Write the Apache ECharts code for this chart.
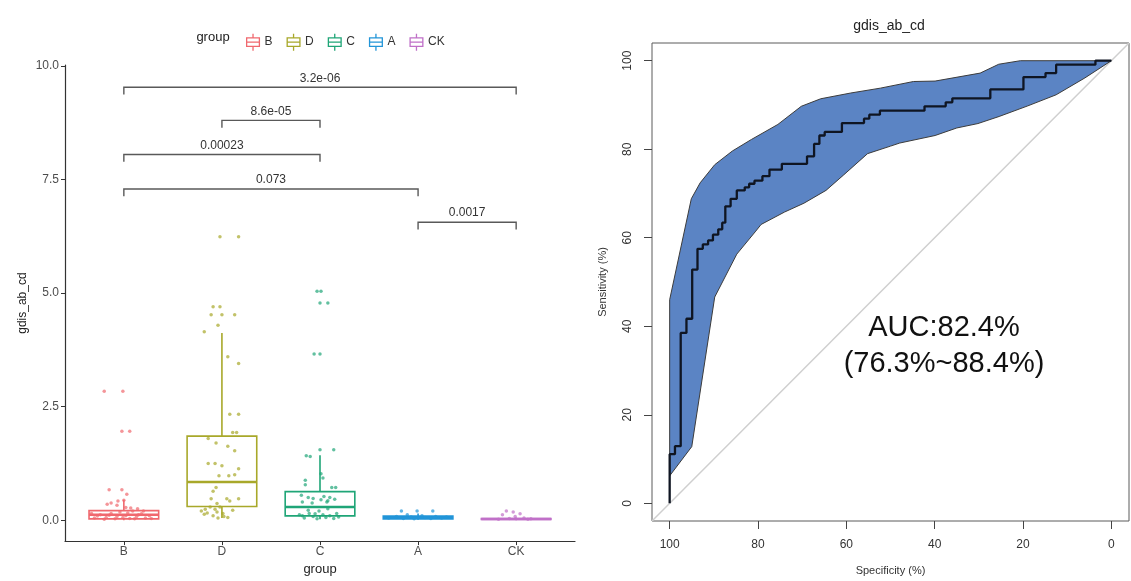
<!DOCTYPE html>
<html><head><meta charset="utf-8">
<script src="https://cdn.jsdelivr.net/npm/echarts@6/dist/echarts.min.js"></script>
<style>html,body{margin:0;padding:0;background:#fff}#c{width:1131px;height:581px}</style>
</head><body><div id="c"></div>
<script>
// ---------------- DATA (left: boxplot) ----------------
const categories = ['B', 'D', 'C', 'A', 'CK'];
const yTicks = [0, 2.5, 5, 7.5, 10];
const whiskerLow  = [0.00, 0.05, 0.02, 0.01, 0.00];
const q1          = [0.03, 0.30, 0.095, 0.03, 0.015];
const median      = [0.12, 0.84, 0.29, 0.06, 0.025];
const q3          = [0.21, 1.85, 0.63, 0.09, 0.035];
const whiskerHigh = [0.45, 4.12, 1.43, 0.15, 0.06];

const valB = [2.84,2.84,1.96,1.96,0.67,0.67,0.57,0.44,0.42,0.35,0.38,0.33,0.28,0.27,0.25,0.05,0.12,0.06,0.15,0.03,0.18,0.10,0.04,0.20,0.08,0.14,0.05,0.10,0.02,0.08,0.16,0.03,0.20,0.09,0.11,0.06,0.12,0.04,0.15];
const jitB = [-0.2,-0.01,-0.02,0.06,-0.15,-0.02,0.03,0.0,-0.06,-0.17,-0.13,-0.07,0.02,0.07,0.14,-0.3,-0.24,-0.18,-0.13,-0.09,-0.04,0.02,0.06,0.09,0.13,0.18,0.22,0.26,-0.2,-0.07,0.04,0.11,0.2,-0.27,-0.15,-0.01,0.15,0.28,-0.33];
const valD = [6.24,6.24,4.70,4.70,4.52,4.52,4.52,4.29,4.15,3.60,3.45,2.33,2.33,1.93,1.93,1.80,1.70,1.63,1.53,1.25,1.25,1.20,1.13,0.98,0.98,1.00,0.72,0.64,0.47,0.47,0.47,0.42,0.37,0.29,0.29,0.24,0.24,0.22,0.20,0.18,0.15,0.13,0.10,0.08,0.06,0.16,0.05];
const jitD = [-0.02,0.17,-0.09,-0.02,-0.11,0.0,0.13,-0.04,-0.18,0.06,0.17,0.08,0.17,0.11,0.15,-0.14,-0.06,0.06,0.13,-0.14,-0.07,0.0,0.17,-0.03,0.07,0.13,-0.06,-0.09,-0.11,0.05,0.17,0.08,-0.05,-0.12,-0.02,-0.17,-0.07,0.11,-0.21,-0.05,0.01,-0.18,-0.09,0.02,0.06,-0.15,-0.04];
const valC = [5.04,5.04,4.78,4.78,3.66,3.66,1.55,1.55,1.42,1.40,1.02,0.93,0.88,0.78,0.72,0.72,0.55,0.50,0.48,0.52,0.50,0.45,0.43,0.46,0.40,0.38,0.40,0.12,0.05,0.15,0.08,0.03,0.12,0.06,0.10,0.04,0.15,0.07,0.22,0.20,0.25,0.10,0.14];
const jitC = [-0.03,0.01,0.0,0.08,-0.06,0.0,0.0,0.14,-0.14,-0.1,0.01,0.03,-0.15,-0.15,0.12,0.16,-0.19,-0.12,-0.07,0.04,0.1,0.01,0.08,0.15,-0.18,-0.08,0.07,-0.21,-0.16,-0.11,-0.07,-0.03,0.03,0.06,0.1,0.14,0.17,0.19,-0.12,-0.01,0.08,-0.18,-0.05];
const valA = [0.20,0.20,0.20,0.12,0.10,0.05,0.08,0.04,0.07,0.03,0.06,0.04,0.08,0.05,0.07];
const jitA = [-0.17,-0.01,0.15,-0.11,0.04,-0.3,-0.22,-0.15,-0.07,-0.04,0.07,0.13,0.18,0.24,0.29];
const valCK = [0.20,0.18,0.12,0.14,0.08,0.05,0.04,0.02,0.02,0.03];
const jitCK = [-0.1,-0.03,-0.14,0.04,-0.01,0.08,-0.07,-0.18,0.12,0.15];

const bracketFrom   = [1, 2, 1, 1, 4];
const bracketTo     = [5, 3, 3, 4, 5];
const bracketY      = [9.53, 8.80, 8.05, 7.29, 6.56];
const bracketLabels = ['3.2e-06', '8.6e-05', '0.00023', '0.073', '0.0017'];

// ---------------- DATA (right: ROC) ----------------
const specTicks = [0, 20, 40, 60, 80, 100];
const rocSpec = [100,100,98.8,98.8,97.5,97.5,96.2,96.2,94.9,94.9,93.7,93.7,92.5,92.5,91.3,91.3,90.2,90.2,89.0,89.0,88.1,88.1,87.4,87.4,86.2,86.2,84.8,84.8,83.0,83.0,82.0,82.0,80.8,80.8,79.0,79.0,77.4,77.4,74.6,74.6,68.9,68.9,67.3,67.3,66.1,66.1,64.9,64.9,61.0,61.0,56.0,56.0,54.8,54.8,52.4,52.4,42.3,42.3,37.5,37.5,36.0,36.0,27.4,27.4,19.9,19.9,14.9,14.9,12.5,12.5,3.6,3.6,0];
const rocSens = [0,11.1,11.1,12.9,12.9,38.5,38.5,41.7,41.7,52.8,52.8,57.5,57.5,58.5,58.5,59.4,59.4,60.7,60.7,61.9,61.9,63.4,63.4,67.1,67.1,68.8,68.8,70.7,70.7,71.4,71.4,72.2,72.2,72.9,72.9,73.9,73.9,75.4,75.4,76.7,76.7,78.4,78.4,81.2,81.2,83.1,83.1,83.9,83.9,85.9,85.9,86.9,86.9,87.8,87.8,88.7,88.7,89.7,89.7,90.6,90.6,91.5,91.5,93.5,93.5,96.3,96.3,97.2,97.2,99.1,99.1,100,100];
const ciUpperSpec = [100,95.1,93.1,89.8,85.8,81.5,75.5,70.2,65.8,59.0,52.3,44.8,39.9,29.7,25.5,20.6,0];
const ciUpperSens = [46.0,68.8,72.4,76.5,79.6,82.2,85.6,89.7,91.4,92.7,93.8,95.3,95.4,97.2,99.2,100,100];
const ciLowerSpec = [100,95.0,89.8,84.8,80.5,79.3,74.0,69.6,64.6,60.6,55.2,50.0,47.9,39.9,35.0,30.2,25.4,18.9,12.5,6.0,0];
const ciLowerSens = [6.2,12.8,46.6,56.3,61.5,63.0,65.8,67.8,70.7,74.2,79.0,80.7,81.4,83.1,84.8,85.8,87.4,89.8,92.3,96.1,100];
const aucText = 'AUC:82.4%';
const aucCiText = '(76.3%~88.4%)';

// ---------------- STYLE ----------------
const FONT = '"Liberation Sans", Arial, Helvetica, sans-serif';
const groupColors = ['#F0686E', '#A8A82A', '#1FA577', '#2295D8', '#C070C8'];
const BOX_WIDTH = 0.71;
const BRACKET_TIP = 0.16;
const BOX_ICON = 'path://M6,0 L6,4 M0,4 L12,4 L12,12 L0,12 Z M0,8 L12,8 M6,12 L6,16';

const groupVals = [valB, valD, valC, valA, valCK];
const groupJit = [jitB, jitD, jitC, jitA, jitCK];

function boxRender(params, api) {
  const x = api.value(0);
  const lo = api.coord([x, api.value(1)]);
  const b1 = api.coord([x, api.value(2)]);
  const md = api.coord([x, api.value(3)]);
  const b3 = api.coord([x, api.value(4)]);
  const hi = api.coord([x, api.value(5)]);
  const hw = api.size([BOX_WIDTH, 0])[0] / 2;
  const color = api.visual('color');
  return {
    type: 'group',
    children: [
      { type: 'line', shape: { x1: lo[0], y1: lo[1], x2: b1[0], y2: b1[1] }, style: { stroke: color, lineWidth: 1.6 } },
      { type: 'line', shape: { x1: b3[0], y1: b3[1], x2: hi[0], y2: hi[1] }, style: { stroke: color, lineWidth: 1.6 } },
      { type: 'rect', shape: { x: lo[0] - hw, y: b3[1], width: 2 * hw, height: Math.max(b1[1] - b3[1], 0.5) }, style: { fill: 'rgba(255,255,255,0)', stroke: color, lineWidth: 1.6 } },
      { type: 'line', shape: { x1: md[0] - hw, y1: md[1], x2: md[0] + hw, y2: md[1] }, style: { stroke: color, lineWidth: 2.6 } }
    ]
  };
}

function bracketRender(params, api) {
  const x1 = api.value(0), x2 = api.value(1), y = api.value(2);
  const p1 = api.coord([x1, y - BRACKET_TIP]);
  const p2 = api.coord([x1, y]);
  const p3 = api.coord([x2, y]);
  const p4 = api.coord([x2, y - BRACKET_TIP]);
  const mid = api.coord([(x1 + x2) / 2, y]);
  return {
    type: 'group',
    children: [
      { type: 'polyline', shape: { points: [p1, p2, p3, p4] }, style: { stroke: '#595959', lineWidth: 1.4, fill: null } },
      { type: 'text', x: mid[0], y: mid[1] - 3, style: { text: bracketLabels[params.dataIndex], align: 'center', verticalAlign: 'bottom', font: '12px ' + FONT, fill: '#333' } }
    ]
  };
}

function bandRender(params, api) {
  if (params.dataIndex !== 0) return null;
  const pts = [];
  for (let i = 0; i < ciUpperSpec.length; i++) pts.push(api.coord([ciUpperSpec[i], ciUpperSens[i]]));
  for (let i = ciLowerSpec.length - 1; i >= 0; i--) pts.push(api.coord([ciLowerSpec[i], ciLowerSens[i]]));
  return { type: 'polygon', shape: { points: pts }, style: { fill: '#5B84C4', stroke: '#3c3c3c', lineWidth: 1 } };
}

const series = [];
categories.forEach((c, i) => {
  series.push({
    type: 'custom', name: c, xAxisIndex: 0, yAxisIndex: 0,
    itemStyle: { color: groupColors[i] },
    renderItem: boxRender,
    data: [[i + 1, whiskerLow[i], q1[i], median[i], q3[i], whiskerHigh[i]]],
    z: 2
  });
});
categories.forEach((c, i) => {
  const v = groupVals[i], j = groupJit[i];
  const n = Math.min(v.length, j.length);
  const d = [];
  for (let k = 0; k < n; k++) d.push([i + 1 + j[k], v[k]]);
  series.push({
    type: 'scatter', name: c, xAxisIndex: 0, yAxisIndex: 0,
    symbolSize: 3.5, data: d,
    itemStyle: { color: groupColors[i], opacity: 0.7 },
    silent: true, z: 3
  });
});
series.push({
  type: 'custom', xAxisIndex: 0, yAxisIndex: 0,
  renderItem: bracketRender,
  data: bracketFrom.map((f, i) => [f, bracketTo[i], bracketY[i]]),
  silent: true, z: 4
});
series.push({
  type: 'line', xAxisIndex: 1, yAxisIndex: 1, data: [[104, -4], [-4, 104]],
  symbol: 'none', lineStyle: { color: '#cfcfcf', width: 1.5 }, silent: true, z: 1
});
series.push({
  type: 'custom', xAxisIndex: 1, yAxisIndex: 1, renderItem: bandRender,
  data: [[ciUpperSpec[0], ciUpperSens[0]]], silent: true, z: 2
});
series.push({
  type: 'line', xAxisIndex: 1, yAxisIndex: 1,
  data: rocSpec.map((s, i) => [s, rocSens[i]]),
  symbol: 'none', lineStyle: { color: '#0f1522', width: 2.3 }, silent: true, z: 3
});

const option = {
  animation: false,
  backgroundColor: '#ffffff',
  textStyle: { fontFamily: FONT },
  legend: {
    left: 241, top: 28, itemWidth: 13, itemHeight: 17, itemGap: 14,
    textStyle: { fontSize: 12, color: '#333', fontFamily: FONT },
    selectedMode: false,
    data: categories.map((c, i) => ({
      name: c, icon: BOX_ICON,
      itemStyle: { color: 'rgba(0,0,0,0)', borderColor: groupColors[i], borderWidth: 1.3 }
    }))
  },
  graphic: [
    { type: 'text', x: 213, y: 37, style: { text: 'group', align: 'center', verticalAlign: 'middle', font: '13px ' + FONT, fill: '#222' } },
    { type: 'text', x: 889, y: 26, style: { text: 'gdis_ab_cd', align: 'center', verticalAlign: 'middle', font: '14px ' + FONT, fill: '#222' } },
    { type: 'text', x: 944, y: 328, style: { text: aucText, align: 'center', verticalAlign: 'middle', font: '29px ' + FONT, fill: '#111' } },
    { type: 'text', x: 944, y: 364, style: { text: aucCiText, align: 'center', verticalAlign: 'middle', font: '29px ' + FONT, fill: '#111' } }
  ],
  grid: [
    { left: 65, top: 65, width: 510, height: 477 },
    { left: 652, top: 43, width: 477, height: 479, show: true, borderColor: '#5a5a5a', borderWidth: 1, backgroundColor: 'rgba(0,0,0,0)' }
  ],
  xAxis: [
    {
      type: 'value', gridIndex: 0, min: 0.4, max: 5.6,
      name: 'group', nameLocation: 'middle', nameGap: 21,
      nameTextStyle: { fontSize: 13, color: '#222', fontFamily: FONT },
      axisLine: { show: true, onZero: false, lineStyle: { color: '#333', width: 1.2 } },
      axisTick: { show: true, length: 4, customValues: [1, 2, 3, 4, 5], lineStyle: { color: '#333' } },
      axisLabel: { customValues: [1, 2, 3, 4, 5], formatter: v => categories[Math.round(v) - 1], margin: 5, fontSize: 12, color: '#4d4d4d' },
      splitLine: { show: false }
    },
    {
      type: 'value', gridIndex: 1, min: -4, max: 104, inverse: true, position: 'bottom',
      name: 'Specificity (%)', nameLocation: 'middle', nameGap: 44,
      nameTextStyle: { fontSize: 11, color: '#333', fontFamily: FONT },
      axisLine: { show: false, onZero: false },
      axisTick: { show: true, length: 8, customValues: specTicks, lineStyle: { color: '#444' } },
      axisLabel: { customValues: specTicks, margin: 18, fontSize: 12, color: '#333' },
      splitLine: { show: false }
    }
  ],
  yAxis: [
    {
      type: 'value', gridIndex: 0, min: -0.46, max: 10.02,
      name: 'gdis_ab_cd', nameLocation: 'middle', nameGap: 36, nameRotate: 90,
      nameTextStyle: { fontSize: 12, color: '#222', fontFamily: FONT },
      axisLine: { show: true, onZero: false, lineStyle: { color: '#333', width: 1.2 } },
      axisTick: { show: true, length: 4, customValues: yTicks, lineStyle: { color: '#333' } },
      axisLabel: { customValues: yTicks, formatter: v => v.toFixed(1), margin: 6, fontSize: 12, color: '#4d4d4d' },
      splitLine: { show: false }
    },
    {
      type: 'value', gridIndex: 1, min: -4, max: 104, position: 'left',
      name: 'Sensitivity (%)', nameLocation: 'middle', nameGap: 44, nameRotate: 90,
      nameTextStyle: { fontSize: 11, color: '#333', fontFamily: FONT },
      axisLine: { show: false, onZero: false },
      axisTick: { show: true, length: 8, customValues: specTicks, lineStyle: { color: '#444' } },
      axisLabel: { customValues: specTicks, rotate: 90, margin: 18, fontSize: 12, color: '#333' },
      splitLine: { show: false }
    }
  ],
  series: series
};

const chart = echarts.init(document.getElementById('c'), null, { renderer: 'canvas' });
chart.setOption(option);
</script>
</body></html>
